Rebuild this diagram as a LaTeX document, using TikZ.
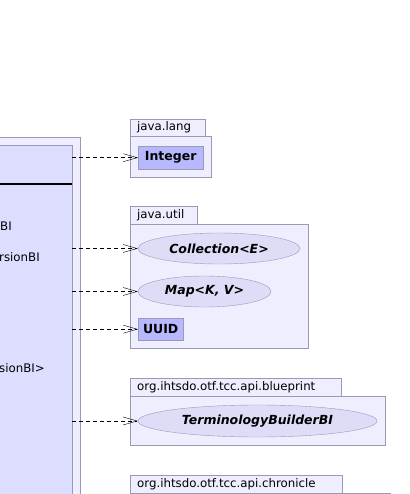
\documentclass[tikz,border=0pt]{standalone}
\usepackage{fontspec}
\setmainfont{DejaVu Sans}
\usepackage{tikz}
\usetikzlibrary{
    arrows.meta,
    calc,
    shapes.geometric
}

\definecolor{pkgfill}{HTML}{EEEEFF}
\definecolor{pkgline}{HTML}{9A9AB8}
\definecolor{clsfill}{HTML}{DDDDFF}
\definecolor{boxfill}{HTML}{B8B8FF}
\definecolor{ifill}{HTML}{DDDDF8}

\tikzset{
    pkgtab/.style={draw=pkgline, fill=pkgfill, anchor=north west, inner sep=0pt},
    pkgbody/.style={draw=pkgline, fill=pkgfill, anchor=north west, inner sep=0pt},
    pkgname/.style={anchor=west, inner sep=0pt, xshift=7pt},
    clsbox/.style={draw=pkgline, fill=boxfill, inner sep=0pt, font=\bfseries\fontsize{12.5}{14}\selectfont},
    ifbox/.style={ellipse, draw=pkgline, fill=ifill, inner sep=0pt, font=\bfseries\itshape\fontsize{12.5}{14}\selectfont},
    dep/.style={dashed, dash pattern=on 4pt off 3pt, -{Straight Barb[length=14pt,width=8pt]}}
}

\begin{document}
\begin{tikzpicture}[x=1pt, y=-1pt, font=\fontsize{11.8}{14}\selectfont]

\useasboundingbox (0,0) rectangle (409,494);
\clip (0,0) rectangle (409,494);
\fill[white] (0,0) rectangle (409,494);

% Class on the left (cut by the page edge)
\node[pkgbody, minimum width=90, minimum height=370] (outer) at (-10,137) {};
\node[draw=pkgline, fill=clsfill, anchor=north west, inner sep=0pt,
      minimum width=82, minimum height=362] (cls) at (-10,145) {};
\draw[line width=1.6pt] (-10,184) -- (cls.east |- 0,184);
\node[anchor=west, inner sep=0pt] (m1) at (0,226) {BI};
\node[anchor=west, inner sep=0pt] (m2) at (-1,257) {rsionBI};
\node[anchor=west, inner sep=0pt] (m3) at (-1,368) {sionBI>};


% java.lang
\node[pkgtab, minimum width=75, minimum height=17] (langtab) at (130,119) {};
\node[pkgname] at (langtab.west) {java.lang};
\node[pkgbody, minimum width=81, minimum height=41] (langbody) at (130,136) {};
\node[clsbox, anchor=north west, minimum width=65, minimum height=23] (integer) at (138,146) {Integer};


% java.util
\node[pkgtab, minimum width=67, minimum height=18] (utiltab) at (130,206) {};
\node[pkgname] at (utiltab.west) {java.util};
\node[pkgbody, minimum width=178, minimum height=124] (utilbody) at (130,224) {};
\node[ifbox, minimum width=162, minimum height=31] (coll) at (219,248.5) {Collection<E>};
\node[ifbox, minimum width=133, minimum height=31] (map) at (204.5,291.5) {Map<K, V>};
\node[clsbox, anchor=north west, minimum width=45, minimum height=22] (uuid) at (138,318) {UUID};


% org.ihtsdo.otf.tcc.api.blueprint
\node[pkgtab, minimum width=211, minimum height=18] (bptab) at (130,378) {};
\node[pkgname] at (bptab.west) {org.ihtsdo.otf.tcc.api.blueprint};
\node[pkgbody, minimum width=255, minimum height=49] (bpbody) at (130,396) {};
\node[ifbox, minimum width=239, minimum height=32] (builder) at (257.5,421) {TerminologyBuilderBI};


% org.ihtsdo.otf.tcc.api.chronicle
\node[pkgtab, minimum width=212, minimum height=18] (chtab) at (130,475) {};
\node[pkgname] at (chtab.west) {org.ihtsdo.otf.tcc.api.chronicle};
\node[pkgbody, minimum width=260, minimum height=40] (chbody) at (130,493) {};


% Dependencies
\draw[dep] (cls.east |- integer.west) -- (integer.west);
\draw[dep] (cls.east |- coll.west) -- (coll.west);
\draw[dep] (cls.east |- map.west) -- (map.west);
\draw[dep] (cls.east |- uuid.west) -- (uuid.west);
\draw[dep] (cls.east |- builder.west) -- (builder.west);

\end{tikzpicture}
\end{document}
